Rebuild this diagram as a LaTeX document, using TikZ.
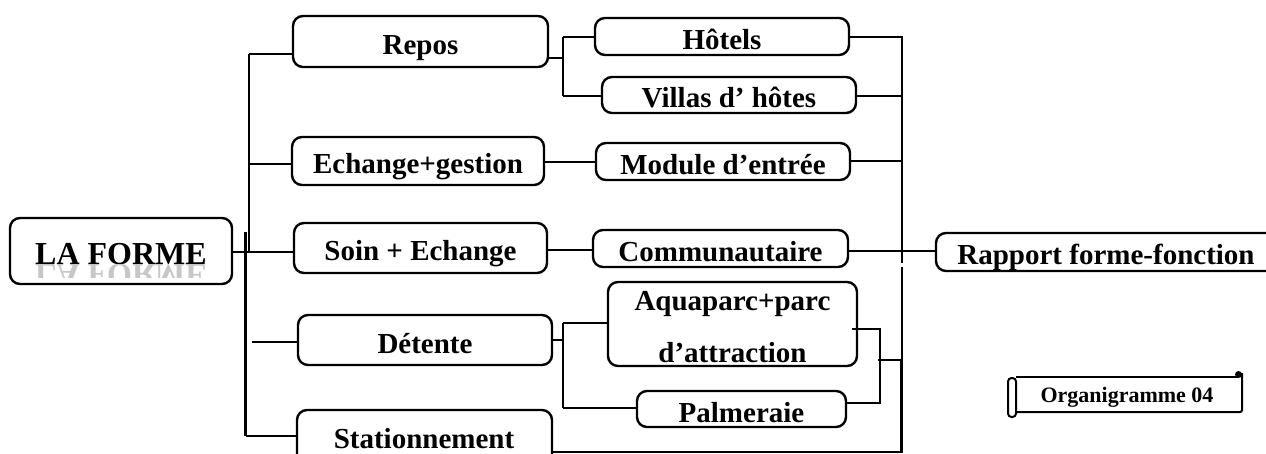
\documentclass[tikz,border=0pt]{standalone}
\usepackage{fontspec}
\setmainfont{Liberation Serif}
\begin{document}
\begin{tikzpicture}[x=1pt,y=-1pt,
  box/.style={draw, line width=2.4pt, rounded corners=10pt, inner sep=0pt, text height=26pt, text depth=0pt, font=\fontsize{29}{33}\selectfont\bfseries},
  link/.style={line width=2.2pt},
  lbl/.style={inner sep=0pt, font=\fontsize{29}{33}\selectfont\bfseries}]
\useasboundingbox (0,0) rectangle (1266,454);

% boxes
\node[box, minimum width=222pt, minimum height=66pt] (forme) at (121,251) {};
\node[lbl, font=\fontsize{32}{36}\selectfont\bfseries, anchor=base] (formetxt) at (121,265) {LA FORME};
\begin{scope}
  \clip (20,265) rectangle (230,278);
  \node[lbl, font=\fontsize{32}{36}\selectfont\bfseries, anchor=base, yscale=-1, text=black!22] (formerefl) at (121,265) {LA FORME};
\end{scope}

\node[box, minimum width=255pt, minimum height=51pt] (repos) at (420.5,41.5) {Repos};
\node[box, minimum width=252pt, minimum height=48pt] (echange) at (418,161) {Echange+gestion};
\node[box, minimum width=253pt, minimum height=50pt] (soin) at (420.5,248) {Soin + Echange};
\node[box, minimum width=254pt, minimum height=50pt] (detente) at (425,340) {Détente};
\node[box, minimum width=255pt, minimum height=80pt] (station) at (424.5,450) {};
\node[lbl, anchor=base] (stationtxt) at (424,448) {Stationnement};

\node[box, minimum width=254pt, minimum height=37pt] (hotels) at (722,36.5) {Hôtels};
\node[box, minimum width=254pt, minimum height=36pt] (villas) at (729,95) {Villas d’ hôtes};
\node[box, minimum width=254pt, minimum height=37pt] (module) at (723,161.5) {Module d’entrée};
\node[box, minimum width=255pt, minimum height=37pt] (commu) at (720.5,248.5) {Communautaire};
\node[box, minimum width=249pt, minimum height=84pt, align=center, text height=78pt, text depth=2pt, font=\fontsize{29}{52}\selectfont\bfseries] (aqua) at (732.5,324) {Aquaparc+parc\\d’attraction};
\node[box, minimum width=209pt, minimum height=36pt] (palm) at (741.5,409) {Palmeraie};

\node[box, minimum width=350pt, minimum height=38pt] (rapport) at (1111,252) {};
\node[lbl, anchor=base] (rapporttxt) at (1106,265) {Rapport forme-fonction};

% scroll
\begin{scope}[line width=2pt]
  \draw[rounded corners=3.5pt] (1008,378) rectangle (1016,417);
  \draw (1016,377) -- (1238,377);
  \draw[rounded corners=2pt] (1016,412) -- (1242,412) -- (1242,373);
  \fill (1238.5,374.5) circle (3.5pt);
\end{scope}
\node[inner sep=0pt, anchor=base, font=\fontsize{22}{26}\selectfont\bfseries] (org) at (1127,402) {Organigramme 04};

% left bus
\coordinate (bA) at (249,54);
\coordinate (bB) at (249,252);
\coordinate (bC) at (245.5,232);
\coordinate (bD) at (245.5,436);
\draw[link] (bA) -- (bB);
\draw[link] (bC) -- (bD);
\draw[link] (bA) -- (bA -| repos.west);
\draw[link] (249,164) -- (echange.west |- 0,164);
\draw[link] (forme.east |- 0,252) -- (soin.west |- 0,252);
\draw[link] (252,342) -- (detente.west |- 0,342);
\draw[link] (bD) -- (bD -| station.west);

% Repos junction
\coordinate (jR) at (563,58);
\draw[link] (repos.east |- jR) -- (jR);
\draw[link] (563,37) -- (563,96);
\draw[link] (563,37) -- (hotels.west |- 0,37);
\draw[link] (563,96) -- (villas.west |- 0,96);

% direct links
\draw[link] (echange.east |- 0,162) -- (module.west |- 0,162);
\draw[link] (soin.east |- 0,250) -- (commu.west |- 0,250);

% Detente junction
\coordinate (jD) at (563,340);
\draw[link] (detente.east |- jD) -- (jD);
\draw[link] (563,323) -- (563,408);
\draw[link] (563,323) -- (aqua.west |- 0,323);
\draw[link] (563,408) -- (palm.west |- 0,408);

% right side
\coordinate (rA) at (902,37);
\draw[link] (hotels.east |- rA) -- (rA) -- (902,263);
\draw[link] (902,267) -- (902,360);
\draw[link] (villas.east |- 0,96) -- (902,96);
\draw[link] (module.east |- 0,161) -- (902,161);
\draw[link] (commu.east |- 0,251) -- (rapport.west |- 0,251);
\draw[link] (852,329) -- (880,329) -- (880,403) -- (palm.east |- 0,403);
\draw[link] (878,360) -- (903,360);
\draw[link] (901.5,360) -- (901.5,452) -- (station.east |- 0,452);
\end{tikzpicture}
\end{document}
